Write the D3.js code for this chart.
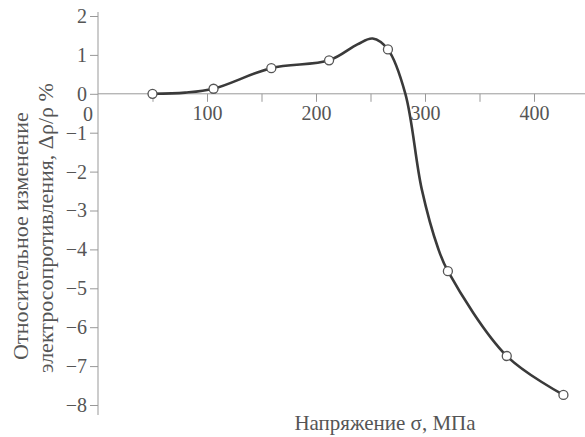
<!DOCTYPE html>
<html>
<head>
<meta charset="utf-8">
<script src="https://cdn.jsdelivr.net/npm/d3@7"></script>
<style>
  body { margin: 0; background: #fff; }
  text { font-family: "Liberation Serif", "Times New Roman", serif; fill: #555; }
</style>
</head>
<body>
<div class="chart"></div>
<script>
// measured points (markers)
var markerSigma = [50, 106, 159, 212, 266, 321, 375, 427];
var markerValue = [0.0, 0.13, 0.66, 0.86, 1.14, -4.56, -6.74, -7.74];

// points along the drawn curve (markers + peak and steep part)
var curveSigma = [50, 80, 106, 159, 212, 238, 252, 266, 282, 297, 312, 321, 375, 427];
var curveValue = [0.0, 0.03, 0.13, 0.66, 0.86, 1.27, 1.42, 1.14, 0.0, -2.45, -3.97, -4.56, -6.74, -7.74];

var yTicks = [-8, -7, -6, -5, -4, -3, -2, -1, 0, 1, 2];
var xTicks = [50, 100, 150, 200, 250, 300, 350, 400];
var xTickLabels = ["", "100", "", "200", "", "300", "", "400"];

var svgWidth = 585;
var svgHeight = 437;
var serif = "Liberation Serif";

var svg = d3.select(".chart")
  .append("svg")
  .attr("width", svgWidth)
  .attr("height", svgHeight);

var x = d3.scaleLinear().domain([0, 400]).range([98, 534]);
var y = d3.scaleLinear().domain([-8, 2]).range([405, 16]);

var axisColor = "#999";

// y axis
var leftAxis = d3.axisLeft(y)
  .tickValues(yTicks)
  .tickSize(8)
  .tickPadding(3)
  .tickFormat(d => d < 0 ? "\u2212" + Math.abs(d) : d);

var yAxisG = svg.append("g")
  .attr("transform", `translate(${x(0)}, 0)`)
  .call(leftAxis)
  .attr("font-family", serif)
  .attr("font-size", 20);
yAxisG.select(".domain").remove();
yAxisG.selectAll("line").attr("stroke", axisColor);
yAxisG.selectAll("text").attr("fill", "#555");

svg.append("line")
  .attr("x1", x(0)).attr("x2", x(0))
  .attr("y1", 12).attr("y2", 415)
  .attr("stroke", axisColor);

// x axis at zero
var bottomAxis = d3.axisBottom(x)
  .tickValues(xTicks)
  .tickSize(8)
  .tickPadding(4)
  .tickFormat((d, i) => xTickLabels[i]);

var xAxisG = svg.append("g")
  .attr("transform", `translate(0, ${y(0)})`)
  .call(bottomAxis)
  .attr("font-family", serif)
  .attr("font-size", 20);
xAxisG.select(".domain").remove();
xAxisG.selectAll("line").attr("stroke", axisColor);
xAxisG.selectAll("text").attr("fill", "#555");

svg.append("line")
  .attr("x1", x(0)).attr("x2", svgWidth)
  .attr("y1", y(0)).attr("y2", y(0))
  .attr("stroke", axisColor);

// origin label
svg.append("text")
  .attr("x", x(0) - 10)
  .attr("y", y(0) + 27)
  .attr("text-anchor", "middle")
  .attr("font-size", 20)
  .text("0");

// curve
var curveData = curveSigma.map((s, i) => ({s: s, v: curveValue[i]}));
var line = d3.line()
  .x(d => x(d.s))
  .y(d => y(d.v))
  .curve(d3.curveCatmullRom.alpha(0.5));

svg.append("path")
  .datum(curveData)
  .attr("d", line)
  .attr("fill", "none")
  .attr("stroke", "#3a3a3a")
  .attr("stroke-width", 2.6);

// markers
var markerData = markerSigma.map((s, i) => ({s: s, v: markerValue[i]}));
svg.selectAll("circle")
  .data(markerData)
  .enter()
  .append("circle")
  .attr("cx", d => x(d.s))
  .attr("cy", d => y(d.v))
  .attr("r", 4.5)
  .attr("fill", "#fff")
  .attr("stroke", "#555")
  .attr("stroke-width", 1.3);

// axis titles
svg.append("text")
  .attr("x", 385)
  .attr("y", 430)
  .attr("text-anchor", "middle")
  .attr("font-size", 21)
  .text("Напряжение σ, МПа");

var yTitle = svg.append("text")
  .attr("transform", "translate(0, 230) rotate(-90)")
  .attr("text-anchor", "middle")
  .attr("font-size", 22);
yTitle.append("tspan").attr("x", -6).attr("y", 28).text("Относительное изменение");
yTitle.append("tspan").attr("x", 2).attr("y", 53).text("электросопротивления, Δρ/ρ %");
</script>
</body>
</html>
